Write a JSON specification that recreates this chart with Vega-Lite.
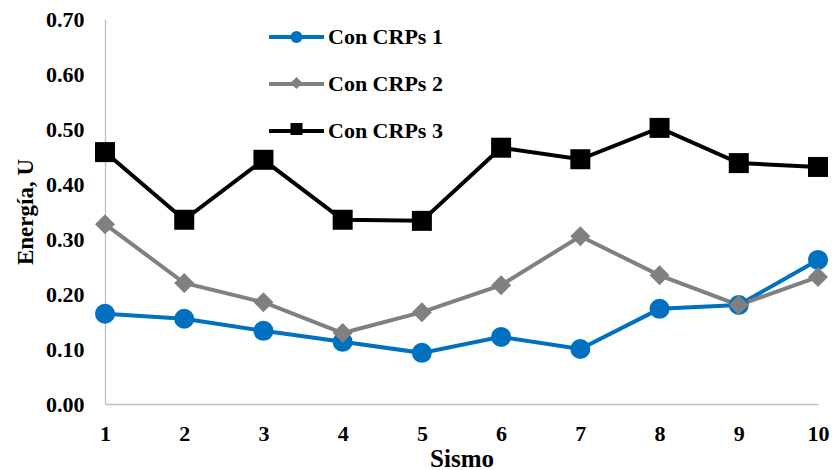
{
  "$schema": "https://vega.github.io/schema/vega-lite/v6.json",
  "width": 713,
  "height": 385,
  "autosize": "none",
  "padding": {"left": 105, "top": 19, "right": 14, "bottom": 66},
  "background": "white",
  "config": {
    "view": {"stroke": null},
    "font": "Liberation Serif",
    "axis": {
      "grid": false,
      "ticks": false,
      "domainColor": "#bfbfbf",
      "domainWidth": 1.3,
      "labelFont": "Liberation Serif",
      "labelFontWeight": "bold",
      "labelFontSize": 22,
      "labelColor": "#000000",
      "titleFont": "Liberation Serif",
      "titleFontWeight": "bold",
      "titleColor": "#000000"
    },
    "legend": {
      "labelFont": "Liberation Serif",
      "labelFontWeight": "bold",
      "labelFontSize": 22,
      "labelColor": "#000000"
    }
  },
  "data": {
    "values": [
      {"sismo": 1, "serie": "Con CRPs 1", "u": 0.164},
      {"sismo": 2, "serie": "Con CRPs 1", "u": 0.155},
      {"sismo": 3, "serie": "Con CRPs 1", "u": 0.133},
      {"sismo": 4, "serie": "Con CRPs 1", "u": 0.113},
      {"sismo": 5, "serie": "Con CRPs 1", "u": 0.093},
      {"sismo": 6, "serie": "Con CRPs 1", "u": 0.122},
      {"sismo": 7, "serie": "Con CRPs 1", "u": 0.100},
      {"sismo": 8, "serie": "Con CRPs 1", "u": 0.173},
      {"sismo": 9, "serie": "Con CRPs 1", "u": 0.180},
      {"sismo": 10, "serie": "Con CRPs 1", "u": 0.262},
      {"sismo": 1, "serie": "Con CRPs 2", "u": 0.327},
      {"sismo": 2, "serie": "Con CRPs 2", "u": 0.220},
      {"sismo": 3, "serie": "Con CRPs 2", "u": 0.185},
      {"sismo": 4, "serie": "Con CRPs 2", "u": 0.129},
      {"sismo": 5, "serie": "Con CRPs 2", "u": 0.167},
      {"sismo": 6, "serie": "Con CRPs 2", "u": 0.216},
      {"sismo": 7, "serie": "Con CRPs 2", "u": 0.305},
      {"sismo": 8, "serie": "Con CRPs 2", "u": 0.234},
      {"sismo": 9, "serie": "Con CRPs 2", "u": 0.180},
      {"sismo": 10, "serie": "Con CRPs 2", "u": 0.231},
      {"sismo": 1, "serie": "Con CRPs 3", "u": 0.458},
      {"sismo": 2, "serie": "Con CRPs 3", "u": 0.335},
      {"sismo": 3, "serie": "Con CRPs 3", "u": 0.444},
      {"sismo": 4, "serie": "Con CRPs 3", "u": 0.335},
      {"sismo": 5, "serie": "Con CRPs 3", "u": 0.333},
      {"sismo": 6, "serie": "Con CRPs 3", "u": 0.466},
      {"sismo": 7, "serie": "Con CRPs 3", "u": 0.445},
      {"sismo": 8, "serie": "Con CRPs 3", "u": 0.502},
      {"sismo": 9, "serie": "Con CRPs 3", "u": 0.438},
      {"sismo": 10, "serie": "Con CRPs 3", "u": 0.431}
    ]
  },
  "encoding": {
    "x": {
      "field": "sismo",
      "type": "quantitative",
      "scale": {"domain": [1, 10], "nice": false, "zero": false},
      "axis": {
        "values": [1, 2, 3, 4, 5, 6, 7, 8, 9, 10],
        "format": "d",
        "labelPadding": 19,
        "labelFlush": false,
        "title": "Sismo",
        "titleFontSize": 25,
        "titleBaseline": "alphabetic",
        "titleY": 62
      }
    },
    "y": {
      "field": "u",
      "type": "quantitative",
      "scale": {"domain": [0, 0.7], "nice": false},
      "axis": {
        "values": [0, 0.1, 0.2, 0.3, 0.4, 0.5, 0.6, 0.7],
        "format": ".2f",
        "labelPadding": 21,
        "title": "Energía, U",
        "titleFontSize": 23,
        "titleBaseline": "alphabetic",
        "titleX": -73,
        "titleY": 192.5
      }
    }
  },
  "layer": [
    {
      "mark": {"type": "line", "strokeWidth": 4},
      "encoding": {
        "color": {
          "field": "serie",
          "type": "nominal",
          "scale": {"range": ["#0070c0", "#808080", "#000000"]},
          "legend": {
            "title": null,
            "orient": "none",
            "legendX": 178.5,
            "legendY": 5,
            "padding": 0,
            "symbolType": "M-2.5,0H2.5",
            "symbolSize": 484,
            "symbolStrokeWidth": 4,
            "labelOffset": 18.5,
            "rowPadding": 23
          }
        }
      }
    },
    {
      "mark": {"type": "point", "filled": true, "opacity": 1, "size": 400, "strokeWidth": 0},
      "encoding": {
        "fill": {
          "field": "serie",
          "type": "nominal",
          "scale": {"domain": ["Con CRPs 1", "Con CRPs 2", "Con CRPs 3"], "range": ["#0070c0", "#808080", "#000000"]},
          "legend": {
            "title": null,
            "orient": "none",
            "legendX": 180.5,
            "legendY": 7,
            "padding": 0,
            "symbolSize": 144,
            "symbolStrokeWidth": 0,
            "symbolOpacity": 1,
            "labelExpr": "''",
            "rowPadding": 24
          }
        },
        "shape": {
          "field": "serie",
          "type": "nominal",
          "scale": {"domain": ["Con CRPs 1", "Con CRPs 2", "Con CRPs 3"], "range": ["circle", "diamond", "square"]},
          "legend": {
            "title": null,
            "orient": "none",
            "legendX": 180.5,
            "legendY": 7,
            "padding": 0,
            "symbolSize": 144,
            "symbolStrokeWidth": 0,
            "symbolOpacity": 1,
            "labelExpr": "''",
            "rowPadding": 24
          }
        }
      }
    }
  ]
}
